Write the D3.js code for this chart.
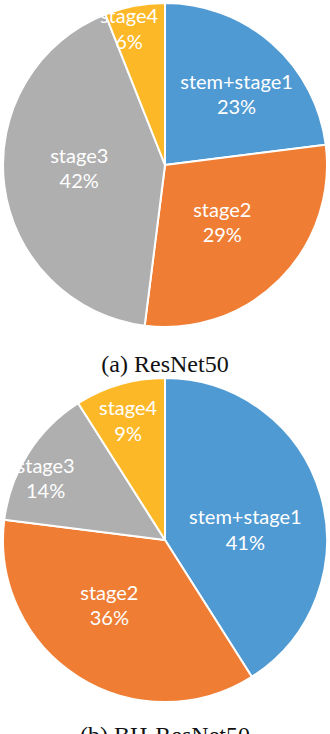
<!DOCTYPE html>
<html>
<head>
<meta charset="utf-8">
<title>ResNet50 stage breakdown</title>
<script src="https://cdnjs.cloudflare.com/ajax/libs/d3/7.8.5/d3.min.js"></script>
<style>
  body { margin: 0; background: #fff; }
</style>
</head>
<body>
<script>
// data
var categories = ["stem+stage1", "stage2", "stage3", "stage4"];
var resnet50 = [23, 29, 42, 6];
var bhResnet50 = [41, 36, 14, 9];
var captions = ["(a) ResNet50", "(b) BH-ResNet50"];

var w = 330, h = 734;
var r = 162;
var colors = ["#4F9AD3", "#EF7D33", "#AFAFAF", "#FDB827"];

// label placement tweaks (degrees off the slice middle, radius as fraction of r)
var labelLayout = [
  [[4, 0.62], [0, 0.50], [5, 0.53], [-4, 0.87]],
  [[9, 0.50], [8, 0.53], [-5, 0.83], [-1, 0.77]]
];

var svg = d3.select("body").append("svg")
  .attr("width", w)
  .attr("height", h);

var color = d3.scaleOrdinal().domain(categories).range(colors);

var pie = d3.pie().sort(null).value(function(d) { return d.v; });
var arc = d3.arc().innerRadius(0).outerRadius(r);

function drawPie(values, cy, idx) {
  var rows = categories.map(function(c, i) { return {c: c, v: values[i]}; });
  var g = svg.append("g").attr("transform", "translate(" + (w / 2) + "," + cy + ")");
  var arcs = pie(rows);

  g.selectAll("path")
    .data(arcs)
    .enter()
    .append("path")
    .attr("d", arc)
    .attr("fill", function(d) { return color(d.data.c); })
    .attr("stroke", "#fff")
    .attr("stroke-width", 2)
    .attr("stroke-linejoin", "round");

  var lab = g.selectAll("g.lab")
    .data(arcs)
    .enter()
    .append("g")
    .attr("class", "lab")
    .attr("transform", function(d, i) {
      var t = labelLayout[idx][i];
      var a = (d.startAngle + d.endAngle) / 2 + t[0] * Math.PI / 180;
      var rr = r * t[1];
      return "translate(" + (rr * Math.sin(a)) + "," + (-rr * Math.cos(a)) + ")";
    });

  lab.append("text")
    .attr("text-anchor", "middle")
    .attr("y", -5.5)
    .attr("font-family", "Lato, 'Open Sans', sans-serif")
    .attr("font-size", 20)
    .attr("fill", "#fff")
    .text(function(d) { return d.data.c; });

  lab.append("text")
    .attr("text-anchor", "middle")
    .attr("y", 20)
    .attr("font-family", "Lato, 'Open Sans', sans-serif")
    .attr("font-size", 20)
    .attr("fill", "#fff")
    .text(function(d) { return d.data.v + "%"; });
}

drawPie(resnet50, 165, 0);
drawPie(bhResnet50, 540, 1);

svg.selectAll("text.cap")
  .data(captions)
  .enter()
  .append("text")
  .attr("class", "cap")
  .attr("x", w / 2)
  .attr("y", function(d, i) { return i === 0 ? 372 : 743; })
  .attr("text-anchor", "middle")
  .attr("font-family", "'Liberation Serif', 'Times New Roman', serif")
  .attr("font-size", 24)
  .attr("fill", "#111")
  .text(function(d) { return d; });
</script>
</body>
</html>
